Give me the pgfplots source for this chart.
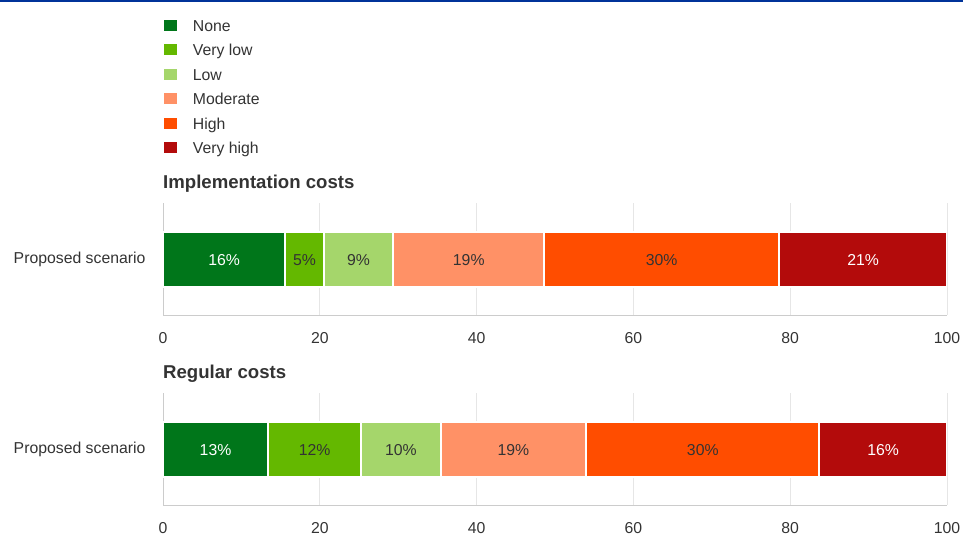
\documentclass[border=0pt]{standalone}
\usepackage{pgfplots}
\pgfplotsset{compat=1.18}
\usepackage{fontspec}
\setmainfont{Liberation Sans}
\definecolor{cNone}{HTML}{00761A}
\definecolor{cVlow}{HTML}{64B800}
\definecolor{cLow}{HTML}{A5D66B}
\definecolor{cMod}{HTML}{FF9166}
\definecolor{cHigh}{HTML}{FF4D00}
\definecolor{cVhigh}{HTML}{B30B0B}
\definecolor{txt}{HTML}{333333}
\definecolor{gridc}{HTML}{E6E6E6}
\definecolor{axisc}{HTML}{CCCCCC}
\definecolor{topline}{HTML}{003399}
\newcommand{\fs}{\fontsize{15.8}{18}\selectfont}
\pgfplotsset{
  panel/.style={
    scale only axis, width=784pt, height=112pt,
    xmin=0, xmax=100, ymin=-1, ymax=1,
    axis lines*=left,
    axis line style={axisc, line width=1pt},
    xtick={0,20,...,100},
    ytick={0}, yticklabels={Proposed scenario},
    major tick length=0pt,
    xmajorgrids, major grid style={gridc, line width=1pt},
    tick label style={font=\fs, text=txt},
    /pgf/number format/assume math mode=true,
    xticklabel style={yshift=-14pt},
    yticklabel style={xshift=-14pt},
    xbar stacked, bar width=55pt,
    title style={at={(axis description cs:0,1)}, anchor=south west, inner sep=0pt, yshift=4pt, font=\bfseries\fontsize{18.6}{20}\selectfont, text=txt},
  },
  seg/.style={fill=#1, draw=white, line width=2pt},
  lab/.style={
    scale only axis, width=784pt, height=112pt,
    xmin=0, xmax=100, ymin=-1, ymax=1, hide axis,
  },
  labw/.style={draw=none, mark=none, nodes near coords, point meta=explicit symbolic,
    nodes near coords style={anchor=center, yshift=-1.5pt, font=\fs, text=white}},
  labd/.style={draw=none, mark=none, nodes near coords, point meta=explicit symbolic,
    nodes near coords style={anchor=center, yshift=-1.5pt, font=\fs, text=txt}},
}
\begin{document}
\begin{tikzpicture}
\path[use as bounding box] (0,0) rectangle (963pt,-536pt);
\fill[topline] (0,0) rectangle (963pt,-2pt);
% Panel 1
\begin{axis}[panel, at={(163pt,-315pt)}, anchor=south west,
  title={Implementation costs},
  legend style={at={(axis description cs:0,2.656)}, anchor=north west, xshift=-1pt, draw=none, fill=none,
    font=\fs, text=txt, inner sep=0pt, row sep=7.5pt,
    nodes={inner xsep=0pt, inner ysep=0pt, text height=11.5pt, text depth=3.5pt},
    /tikz/every odd column/.append style={column sep=13.7pt}},
  legend cell align=left,
  legend image code/.code={\fill[#1] (0pt,-4.5pt) rectangle (15pt,8.5pt);},
]
\addplot[seg=cNone] coordinates {(15.6,0)};
\addplot[seg=cVlow] coordinates {(4.9,0)};
\addplot[seg=cLow] coordinates {(8.9,0)};
\addplot[seg=cMod] coordinates {(19.2,0)};
\addplot[seg=cHigh] coordinates {(30.0,0)};
\addplot[seg=cVhigh] coordinates {(21.4,0)};
\legend{None, Very low, Low, Moderate, High, Very high}
\end{axis}
\begin{axis}[lab, at={(163pt,-315pt)}, anchor=south west]
\addplot[labw] coordinates {(7.8,0) [16\%] (89.3,0) [21\%]};
\addplot[labd] coordinates {(18.05,0) [5\%] (24.95,0) [9\%] (39.0,0) [19\%] (63.6,0) [30\%]};
\end{axis}
% Panel 2
\begin{axis}[panel, at={(163pt,-505pt)}, anchor=south west,
  title={Regular costs}]
\addplot[seg=cNone] coordinates {(13.4,0)};
\addplot[seg=cVlow] coordinates {(11.9,0)};
\addplot[seg=cLow] coordinates {(10.1,0)};
\addplot[seg=cMod] coordinates {(18.6,0)};
\addplot[seg=cHigh] coordinates {(29.7,0)};
\addplot[seg=cVhigh] coordinates {(16.3,0)};
\end{axis}
\begin{axis}[lab, at={(163pt,-505pt)}, anchor=south west]
\addplot[labw] coordinates {(6.7,0) [13\%] (91.85,0) [16\%]};
\addplot[labd] coordinates {(19.35,0) [12\%] (30.35,0) [10\%] (44.7,0) [19\%] (68.85,0) [30\%]};
\end{axis}
\end{tikzpicture}
\end{document}
